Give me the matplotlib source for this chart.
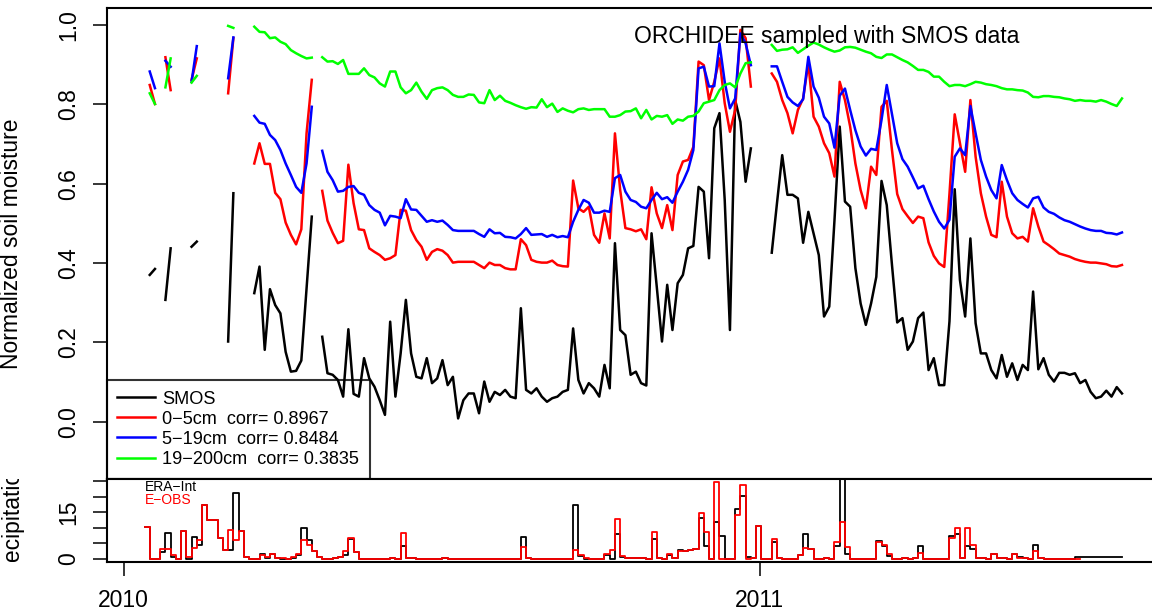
import numpy as np
import pandas as pd
import matplotlib
matplotlib.use("Agg")
import matplotlib.pyplot as plt
import matplotlib.dates as mdates
from matplotlib.transforms import Bbox, TransformedBbox
from datetime import datetime

nan = np.nan

# 3-day composites, normalized soil moisture
smos = [0.370, 0.385, nan, 0.307, 0.437, nan, nan, nan, 0.441, 0.454,
        nan, nan, nan, nan, nan, 0.202, 0.576, nan, nan, nan,
        0.324, 0.391, 0.181, 0.334, 0.294, 0.273, 0.176, 0.126, 0.128, 0.154,
        0.335, 0.517, nan, 0.214, 0.122, 0.118, 0.105, 0.063, 0.233, 0.070,
        0.063, 0.160, 0.109, 0.088, 0.054, 0.017, 0.252, 0.063, 0.172, 0.307,
        0.172, 0.113, 0.109, 0.160, 0.097, 0.109, 0.155, 0.092, 0.113, 0.008,
        0.054, 0.071, 0.071, 0.021, 0.101, 0.050, 0.075, 0.067, 0.080, 0.063,
        0.059, 0.286, 0.080, 0.071, 0.084, 0.063, 0.050, 0.059, 0.063, 0.075,
        0.080, 0.235, 0.105, 0.071, 0.097, 0.084, 0.063, 0.143, 0.084, 0.450,
        0.231, 0.218, 0.118, 0.126, 0.097, 0.091, 0.475, 0.340, 0.202, 0.345,
        0.231, 0.349, 0.370, 0.437, 0.443, 0.592, 0.580, 0.412, 0.740, 0.778,
        0.559, 0.231, 0.811, 0.756, 0.605, 0.689, nan, nan, nan, 0.426,
        0.551, 0.672, 0.572, 0.572, 0.563, 0.451, 0.529, 0.475, 0.420, 0.265,
        0.290, 0.508, 0.744, 0.555, 0.542, 0.387, 0.298, 0.244, 0.298, 0.365,
        0.607, 0.546, 0.395, 0.250, 0.261, 0.181, 0.202, 0.261, 0.275, 0.130,
        0.160, 0.092, 0.092, 0.253, 0.586, 0.357, 0.265, 0.462, 0.248, 0.172,
        0.172, 0.130, 0.109, 0.168, 0.113, 0.147, 0.105, 0.143, 0.130, 0.328,
        0.132, 0.160, 0.118, 0.101, 0.123, 0.123, 0.118, 0.122, 0.097, 0.105,
        0.075, 0.059, 0.063, 0.078, 0.063, 0.087, 0.071]

sm_0_5 = [0.849, 0.801, nan, 0.919, 0.836, nan, nan, nan, 0.862, 0.916,
          nan, nan, nan, nan, nan, 0.828, 0.967, nan, nan, nan,
          0.651, 0.702, 0.650, 0.650, 0.577, 0.561, 0.502, 0.471, 0.447, 0.485,
          0.727, 0.862, nan, 0.582, 0.507, 0.476, 0.450, 0.456, 0.648, 0.551,
          0.485, 0.483, 0.437, 0.428, 0.420, 0.408, 0.412, 0.420, 0.534, 0.532,
          0.483, 0.458, 0.441, 0.408, 0.428, 0.435, 0.431, 0.420, 0.401, 0.403,
          0.403, 0.403, 0.403, 0.395, 0.387, 0.401, 0.395, 0.395, 0.387, 0.384,
          0.384, 0.460, 0.445, 0.408, 0.403, 0.401, 0.401, 0.406, 0.395, 0.392,
          0.391, 0.608, 0.538, 0.529, 0.542, 0.471, 0.451, 0.525, 0.462, 0.727,
          0.584, 0.488, 0.485, 0.480, 0.485, 0.460, 0.591, 0.525, 0.488, 0.546,
          0.483, 0.622, 0.656, 0.660, 0.693, 0.908, 0.899, 0.811, 0.857, 0.916,
          0.803, 0.731, 0.786, 0.988, 0.967, 0.845, nan, nan, nan, 0.878,
          0.857, 0.811, 0.778, 0.727, 0.786, 0.815, 0.904, 0.769, 0.744, 0.702,
          0.677, 0.618, 0.857, 0.811, 0.744, 0.651, 0.584, 0.538, 0.643, 0.622,
          0.794, 0.809, 0.685, 0.574, 0.536, 0.518, 0.501, 0.517, 0.513, 0.452,
          0.418, 0.399, 0.390, 0.575, 0.775, 0.702, 0.630, 0.811, 0.668, 0.576,
          0.517, 0.471, 0.465, 0.605, 0.517, 0.475, 0.462, 0.466, 0.454, 0.538,
          0.492, 0.454, 0.445, 0.435, 0.424, 0.420, 0.416, 0.410, 0.406, 0.403,
          0.401, 0.401, 0.399, 0.397, 0.392, 0.391, 0.395]

sm_5_19 = [0.883, 0.841, nan, 0.910, 0.895, nan, nan, nan, 0.857, 0.947,
           nan, nan, nan, nan, nan, 0.866, 0.969, nan, nan, nan,
           0.771, 0.754, 0.751, 0.723, 0.710, 0.685, 0.651, 0.622, 0.592, 0.577,
           0.651, 0.794, nan, 0.683, 0.630, 0.609, 0.580, 0.582, 0.592, 0.594,
           0.577, 0.572, 0.546, 0.534, 0.527, 0.495, 0.519, 0.517, 0.513, 0.561,
           0.535, 0.534, 0.519, 0.504, 0.508, 0.504, 0.507, 0.496, 0.483, 0.481,
           0.481, 0.481, 0.481, 0.473, 0.466, 0.485, 0.475, 0.476, 0.466, 0.465,
           0.462, 0.473, 0.488, 0.471, 0.472, 0.473, 0.466, 0.471, 0.465, 0.468,
           0.465, 0.504, 0.534, 0.559, 0.552, 0.527, 0.527, 0.532, 0.529, 0.614,
           0.622, 0.580, 0.559, 0.554, 0.542, 0.538, 0.559, 0.577, 0.561, 0.566,
           0.552, 0.580, 0.605, 0.635, 0.685, 0.891, 0.895, 0.845, 0.846, 0.954,
           0.857, 0.790, 0.815, 0.979, 0.954, 0.899, nan, nan, nan, 0.896,
           0.896, 0.857, 0.819, 0.805, 0.796, 0.813, 0.920, 0.845, 0.817, 0.769,
           0.752, 0.691, 0.822, 0.840, 0.786, 0.735, 0.694, 0.671, 0.688, 0.685,
           0.761, 0.849, 0.775, 0.702, 0.662, 0.643, 0.616, 0.588, 0.595, 0.561,
           0.530, 0.504, 0.487, 0.509, 0.668, 0.689, 0.672, 0.796, 0.727, 0.660,
           0.618, 0.584, 0.563, 0.647, 0.609, 0.576, 0.559, 0.549, 0.540, 0.563,
           0.567, 0.540, 0.529, 0.524, 0.515, 0.508, 0.504, 0.498, 0.492, 0.487,
           0.483, 0.481, 0.481, 0.476, 0.475, 0.472, 0.477]

sm_19_200 = [0.828, 0.801, nan, 0.843, 0.916, nan, nan, nan, 0.855, 0.872,
             nan, nan, nan, nan, nan, 0.998, 0.993, nan, nan, nan,
             0.996, 0.983, 0.982, 0.967, 0.969, 0.958, 0.952, 0.937, 0.929, 0.922,
             0.916, 0.918, nan, 0.919, 0.908, 0.909, 0.902, 0.912, 0.877, 0.877,
             0.877, 0.891, 0.874, 0.868, 0.853, 0.845, 0.883, 0.883, 0.843, 0.828,
             0.836, 0.855, 0.832, 0.814, 0.836, 0.841, 0.843, 0.836, 0.824, 0.819,
             0.819, 0.825, 0.824, 0.805, 0.803, 0.836, 0.811, 0.822, 0.809, 0.804,
             0.798, 0.793, 0.789, 0.793, 0.792, 0.813, 0.793, 0.802, 0.781, 0.790,
             0.784, 0.780, 0.788, 0.790, 0.786, 0.788, 0.788, 0.788, 0.769, 0.769,
             0.773, 0.782, 0.783, 0.790, 0.765, 0.786, 0.762, 0.771, 0.769, 0.773,
             0.751, 0.762, 0.759, 0.769, 0.771, 0.782, 0.803, 0.807, 0.811, 0.836,
             0.849, 0.853, 0.843, 0.878, 0.904, 0.906, nan, nan, nan, 0.950,
             0.935, 0.938, 0.939, 0.944, 0.930, 0.939, 0.948, 0.956, 0.951, 0.944,
             0.938, 0.933, 0.936, 0.944, 0.945, 0.943, 0.938, 0.933, 0.929, 0.920,
             0.917, 0.926, 0.926, 0.919, 0.912, 0.906, 0.897, 0.887, 0.887, 0.882,
             0.870, 0.870, 0.857, 0.846, 0.849, 0.849, 0.846, 0.851, 0.857, 0.855,
             0.851, 0.849, 0.846, 0.841, 0.838, 0.838, 0.836, 0.835, 0.830, 0.819,
             0.818, 0.821, 0.821, 0.819, 0.818, 0.815, 0.813, 0.809, 0.811, 0.809,
             0.809, 0.807, 0.811, 0.807, 0.801, 0.796, 0.815]

# 3-day precipitation totals (mm)
precip_era = [10.2, 0, 0, 2.0, 8.25, 0.5, 0, 8.8, 0, 6.8,
              4.5, 17.3, 12.5, 12.5, 6.6, 2.75, 2.75, 21.2, 8.8, 0.5,
              0, 0, 1.5, 0.3, 1.5, 0.3, 0, 0, 0.3, 1.0,
              9.9, 6.0, 2.5, 0.5, 0, 0, 0.3, 0.5, 1.0, 6.2,
              2.0, 0, 0, 0, 0, 0, 0, 0.3, 0, 4.2,
              0.3, 0.3, 0, 0, 0, 0, 0, 0.3, 0, 0,
              0, 0, 0, 0, 0, 0, 0, 0, 0, 0,
              0, 0, 6.9, 0.3, 0, 0, 0, 0, 0, 0,
              0, 0, 17.4, 0.9, 0, 0, 0, 0, 1.0, 0,
              7.8, 0.5, 0.3, 0.3, 0.1, 0.3, 0, 6.4, 0.3, 0,
              1.2, 0.3, 2.75, 2.5, 2.75, 3.1, 13.0, 4.2, 0, 11.9,
              7.2, 0, 0, 16.0, 20.1, 0.5, 0.3, 10.5, 0, 0,
              5.3, 0.3, 0, 0, 0, 1.2, 8.0, 3.1, 0, 0,
              0.3, 0, 4.2, 34.0, 1.5, 0, 0, 0, 0, 0,
              5.8, 3.9, 0.9, 0, 0, 0.3, 0, 0.3, 3.9, 0,
              0, 0, 0, 0, 7.2, 8.0, 0.3, 3.9, 3.0, 0.3,
              0.3, 0, 1.6, 0.3, 0.3, 0, 1.4, 0.5, 0.3, 0,
              4.4, 0.2, 0, 0, 0, 0, 0, 0, 0.4, 0.4,
              0.4, 0.4, 0.4, 0.4, 0.4, 0.4, 0.4, 0.4]

precip_eobs = [10.2, 0, 0, 3.0, 3.0, 1.0, 0, 8.8, 0.5, 3.3,
               6.0, 17.3, 12.5, 12.5, 6.6, 2.75, 9.3, 6.0, 8.8, 0.5,
               0, 0, 1.0, 0.5, 1.5, 0.3, 0.3, 0, 0.5, 1.5,
               6.0, 4.4, 2.5, 0.5, 0, 0, 0.3, 0.5, 2.5, 6.6,
               2.0, 0, 0, 0, 0, 0, 0, 0.3, 0, 8.25,
               0.3, 0.3, 0, 0, 0, 0, 0, 0.3, 0, 0,
               0, 0, 0, 0, 0, 0, 0, 0, 0, 0,
               0, 0, 3.6, 0.3, 0, 0, 0, 0, 0, 0,
               0, 0, 2.75, 1.2, 0.3, 0, 0, 0, 1.6, 2.75,
               12.6, 0.9, 0.3, 0.3, 0.1, 0.3, 0, 8.6, 0.3, 0,
               1.6, 0.3, 2.3, 2.5, 2.75, 3.1, 14.6, 8.6, 0, 24.8,
               0, 0, 0, 14.1, 23.7, 0, 0.3, 10.5, 0, 0,
               6.4, 0.3, 0, 0, 0, 1.2, 3.4, 3.1, 0, 0,
               0.3, 0, 5.3, 11.9, 3.6, 0, 0, 0, 0, 0,
               5.3, 4.4, 1.4, 0, 0, 0.3, 0, 0.3, 1.8, 0,
               0, 0, 0, 0, 6.6, 9.7, 0.3, 9.7, 4.5, 0.3,
               0.3, 0, 1.4, 0.3, 0.3, 0, 1.4, 0.3, 0.3, 0,
               2.5, 0.2, 0, 0, 0, 0, 0, 0, 0, nan,
               nan, nan, nan, nan, nan, nan, nan, nan]

soil_dates = pd.date_range("2010-01-16", periods=len(smos), freq="3D")
precip_dates = pd.date_range("2010-01-13", periods=len(precip_era), freq="3D")

legend_labels = ["SMOS",
                 "0\u22125cm  corr= 0.8967",
                 "5\u221219cm  corr= 0.8484",
                 "19\u2212200cm  corr= 0.3835"]
series_colors = ["#000000", "#ff0000", "#0000ff", "#00ff00"]

plt.rcParams["font.family"] = ["Liberation Sans", "DejaVu Sans"]
fs = 16.5

W, H = 1152, 614
fig = plt.figure(figsize=(W / 100, H / 100), dpi=100)

# panel edges in pixels
left, right = 106.7, 1161.0
top1, mid, bot2 = 8.3, 478.5, 562.0
ax1 = fig.add_axes([left / W, 1 - mid / H, (right - left) / W, (mid - top1) / H])
ax2 = fig.add_axes([left / W, 1 - bot2 / H, (right - left) / W, (bot2 - mid) / H])

t0 = mdates.date2num(datetime(2010, 1, 1))
for ax in (ax1, ax2):
    ax.set_xlim(t0 - 9.7, t0 + 595.4)
    for s in ax.spines.values():
        s.set_linewidth(1.5)
    ax.tick_params(direction="out", length=10, width=1.1, labelsize=fs)

# soil moisture panel
handles = []
for vals, col in zip([smos, sm_0_5, sm_5_19, sm_19_200], series_colors):
    h, = ax1.plot(soil_dates, vals, color=col, lw=1.8)
    handles.append(h)

ax1.set_ylim(-0.1435, 1.0424)
ax1.set_yticks([0.0, 0.2, 0.4, 0.6, 0.8, 1.0])
ax1.set_yticklabels(["0.0", "0.2", "0.4", "0.6", "0.8", "1.0"], rotation=90, va="center")
ax1.tick_params(axis="y", pad=9)
ax1.set_xticks([])

ax1.text(0.5, 0.9256, "ORCHIDEE sampled with SMOS data", transform=ax1.transAxes,
         ha="left", va="baseline", fontsize=fs)

leg = ax1.legend(handles, legend_labels, loc="lower left", bbox_to_anchor=(0, 0),
                 borderaxespad=0, fontsize=13.1, frameon=True, fancybox=False,
                 edgecolor="black", facecolor="none", handlelength=2.05,
                 handletextpad=0.43, borderpad=0.58, labelspacing=0.17)
leg.get_frame().set_linewidth(1.5)

# precipitation panel
ax2.step(precip_dates, precip_era, where="post", color="black", lw=1.3)
ax2.step(precip_dates, precip_eobs, where="post", color="#ff0000", lw=1.3)
ax2.set_ylim(-1.1, 25.8)
ax2.set_yticks([0, 5, 10, 15, 20, 25])
ax2.set_yticklabels(["0", "", "", "15", "", ""], rotation=90, va="center")
ax2.tick_params(axis="y", pad=9)
ax2.set_xticks([mdates.date2num(datetime(2010, 1, 1)), mdates.date2num(datetime(2011, 1, 1))])
ax2.set_xticklabels(["2010", "2011"])
ax2.tick_params(axis="x", pad=9.5)

ax2.text(0.0363, 0.8503, "ERA\u2212Int", transform=ax2.transAxes, ha="left", va="baseline",
         fontsize=10, color="black")
ax2.text(0.0363, 0.6922, "E\u2212OBS", transform=ax2.transAxes, ha="left", va="baseline",
         fontsize=10, color="#ff0000")

# axis titles
fig.text(12 / W, 1 - 243.4 / H, "Normalized soil moisture", rotation=90,
         ha="center", va="center", fontsize=fs)
plab = fig.text(12 / W, 1 - 520 / H, "Precipitation", rotation=90,
                ha="center", va="center", fontsize=fs)
plab.set_clip_box(TransformedBbox(Bbox.from_extents(0, 1 - bot2 / H, 1, 1 - mid / H),
                                  fig.transFigure))
plab.set_clip_on(True)

fig.savefig("out.png", dpi=100)
